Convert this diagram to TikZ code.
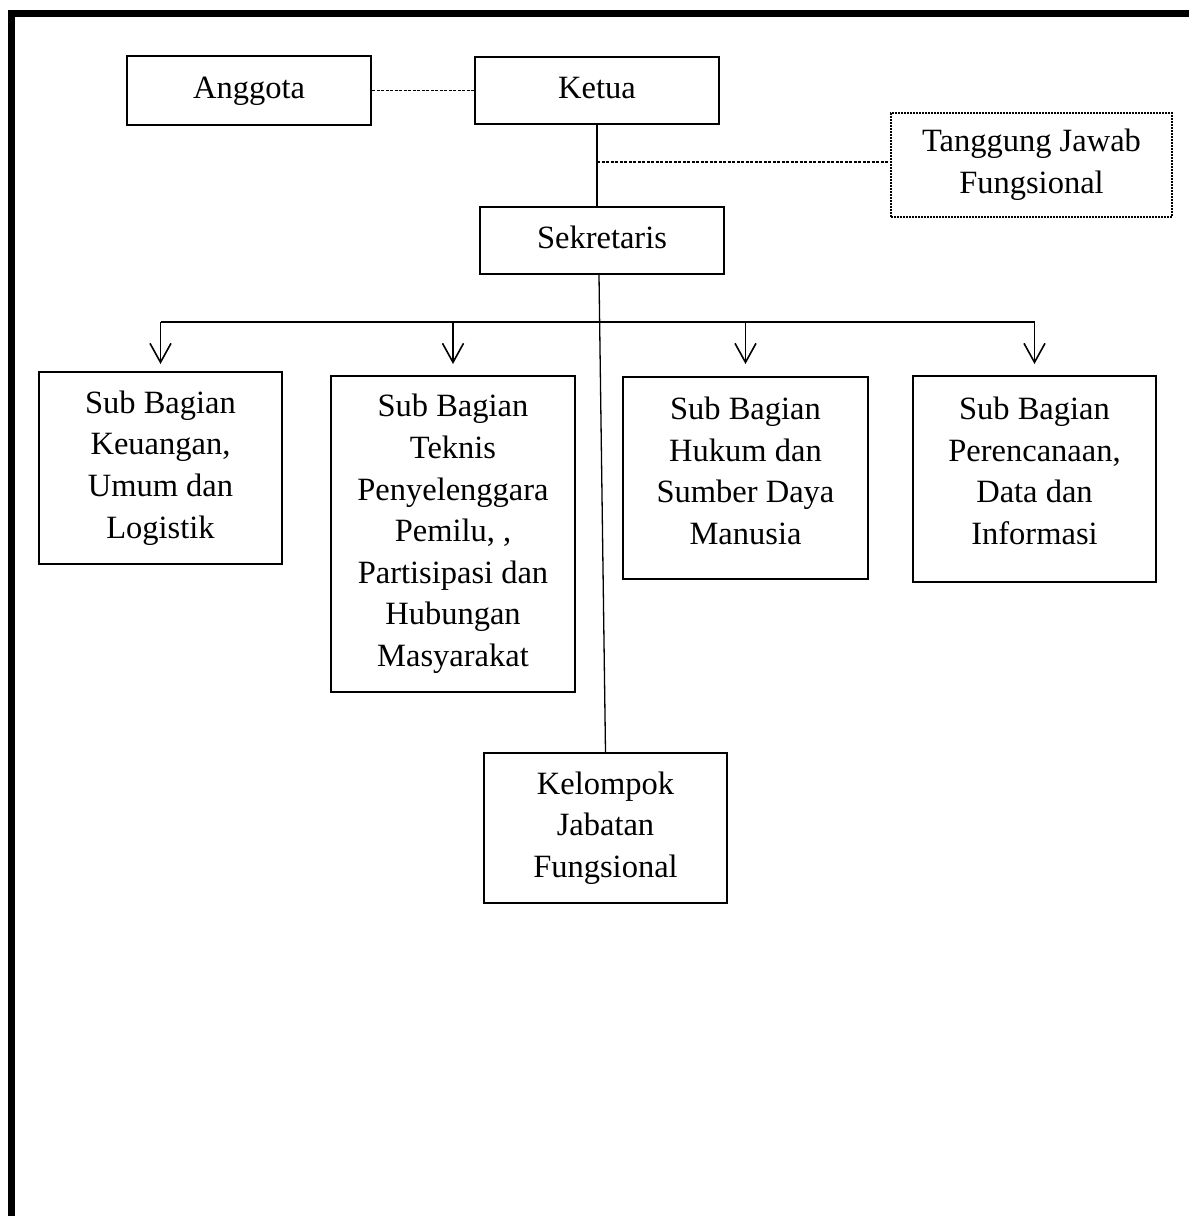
\documentclass[tikz,border=0pt]{standalone}
\usepackage{fontspec}
\setmainfont{Liberation Serif}
\usetikzlibrary{arrows.meta}
\begin{document}
\begin{tikzpicture}[x=1pt,y=-1pt,
  every node/.style={font=\fontsize{32.5}{41.6}\selectfont, align=center, inner sep=0pt},
  box/.style={draw, line width=2pt, rectangle},
  oneline/.style={text height=23pt, text depth=8pt},
  dotbox/.style={draw, line width=1.8pt, dash pattern=on 1.6pt off 1.4pt, rectangle},
  dashline/.style={line width=1.1pt, dash pattern=on 3pt off 1.5pt},
  solidline/.style={line width=1.8pt},
  thinline/.style={line width=1.3pt},
  arr/.style={line width=1.6pt, -{Straight Barb[length=19pt,width=21pt,line width=1.6pt]}}
]
\useasboundingbox (0,0) rectangle (1189,1216);
\fill[white] (0,0) rectangle (1189,1216);
% frame
\draw[line width=7pt] (11,1216) -- (11,13) -- (1189,13);

% nodes
\node[box, oneline, minimum width=244pt, minimum height=69pt] (ang) at (249,90.5) {Anggota};
\node[box, oneline, minimum width=244pt, minimum height=67pt] (ket) at (597,90.5) {Ketua};
\node[dotbox, minimum width=281pt, minimum height=104pt] (tj) at (1031.5,165) {Tanggung Jawab\\Fungsional};
\node[box, oneline, minimum width=244pt, minimum height=67pt] (sek) at (602,240.5) {Sekretaris};

\node[box, minimum width=243pt, minimum height=192pt] (b1) at (160.5,468) {Sub Bagian\\Keuangan,\\Umum dan\\Logistik};
\node[box, minimum width=244pt, minimum height=316pt] (b2) at (453,534) {Sub Bagian\\Teknis\\Penyelenggara\\Pemilu, ,\\Partisipasi dan\\Hubungan\\Masyarakat};
\node[box, minimum width=245pt, minimum height=202pt] (b3) at (745.5,478) {};
\node (t3) at (745.5,471) {Sub Bagian\\Hukum dan\\Sumber Daya\\Manusia};
\node[box, minimum width=243pt, minimum height=206pt] (b4) at (1034.5,479) {};
\node (t4) at (1034.5,471) {Sub Bagian\\Perencanaan,\\Data dan\\Informasi};

\node[box, minimum width=243pt, minimum height=150pt] (kel) at (605.5,828) {Kelompok\\Jabatan\\Fungsional};

% connectors
\draw[dashline] (ang.east) -- (ket.west);
\draw[solidline] (ket.south) -- (ket.south |- sek.north);
\coordinate (tjj) at (597,162);
\draw[dashline] (tjj) -- (tj.west |- tjj);

\draw[thinline] ([xshift=-3pt]sek.south) -- (kel.north);

\coordinate (bary) at (0,322);
\coordinate (tipy) at (0,364);
\draw[solidline] (b1.north |- bary) -- (b4.north |- bary);
\draw[arr] (b1.north |- bary) -- (b1.north |- tipy);
\draw[arr] (b2.north |- bary) -- (b2.north |- tipy);
\draw[arr] (b3.north |- bary) -- (b3.north |- tipy);
\draw[arr] (b4.north |- bary) -- (b4.north |- tipy);
\end{tikzpicture}
\end{document}
